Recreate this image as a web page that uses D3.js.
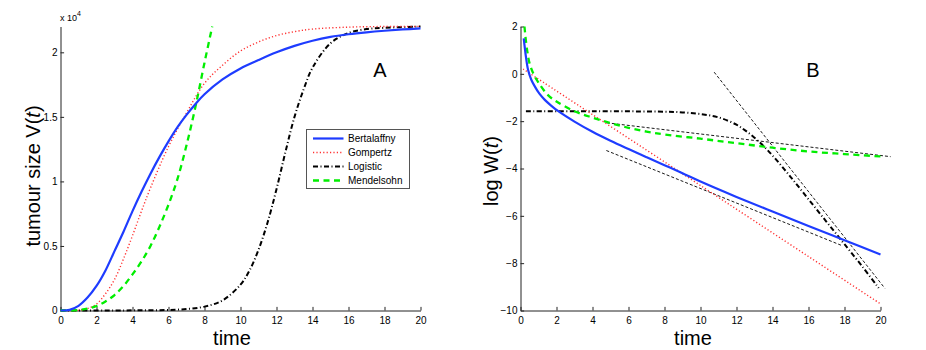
<!DOCTYPE html>
<html>
<head>
<meta charset="utf-8">
<script src="https://cdn.jsdelivr.net/npm/d3@7"></script>
<style>
  body { margin: 0; background: #fff; }
  svg text { font-family: "Liberation Sans", Arial, Helvetica, sans-serif; fill: #000; }
  .axis path, .axis line { stroke: #222; }
  .axis text { font-size: 10px; }
</style>
</head>
<body>
<div id="chart"></div>
<script>
// values in units of 10^4 for panel A, log W(t) for panel B
const seriesNames = ["Bertalaffny", "Gompertz", "Logistic", "Mendelsohn"];

const bertalanffyA = [[0,0],[0.5,0.005],[1,0.036],[1.5,0.1],[2,0.19],[2.5,0.31],[3,0.46],[3.5,0.61],[4,0.77],[4.5,0.92],[5,1.06],[5.5,1.19],[6,1.31],[6.5,1.42],[7,1.515],[7.5,1.6],[8,1.675],[9,1.79],[10,1.875],[11,1.94],[12,2.0],[13,2.05],[14,2.09],[15,2.12],[16,2.14],[17,2.155],[18,2.167],[19,2.177],[20,2.185]];
const gompertzA = [[0,0],[1,0.002],[1.5,0.015],[2,0.05],[2.5,0.13],[3,0.24],[3.5,0.4],[4,0.58],[4.5,0.77],[5,0.95],[6,1.27],[7,1.53],[8,1.76],[9,1.9],[10,2.01],[11,2.08],[12,2.13],[13,2.16],[14,2.18],[16,2.195],[18,2.2],[20,2.2]];
const logisticA = [[0,0],[4,0.001],[5,0.002],[6,0.004],[7,0.011],[8,0.03],[9,0.078],[10,0.2],[10.5,0.31],[11,0.47],[11.5,0.68],[12,0.94],[12.5,1.23],[13,1.5],[13.5,1.71],[14,1.88],[15,2.07],[16,2.15],[17,2.18],[18,2.19],[20,2.2]];
const mendelsohnA = [[0,0],[1,0.004],[1.5,0.014],[2,0.035],[2.5,0.07],[3,0.12],[3.5,0.19],[4,0.28],[4.5,0.38],[5,0.5],[5.5,0.65],[6,0.82],[6.5,1.02],[7,1.28],[7.5,1.58],[8,1.92],[8.43,2.2]];

const bertalanffyB = [[0.18,1.5],[0.3,0.73],[0.42,0.17],[0.6,-0.25],[0.8,-0.54],[1.05,-0.84],[1.35,-1.1],[1.7,-1.34],[2.1,-1.58],[3,-2.02],[4,-2.45],[5,-2.83],[6,-3.18],[7,-3.52],[8,-3.86],[9,-4.2],[10,-4.55],[12,-5.2],[14,-5.82],[16,-6.43],[18,-7.03],[20,-7.63]];
const gompertzB = [[0.15,0.2],[10,-4.72],[20,-9.72]];
const logisticB = [[0.3,-1.58],[4,-1.58],[8,-1.6],[9,-1.63],[10,-1.7],[11,-1.84],[12,-2.15],[12.5,-2.4],[13,-2.7],[13.5,-3.05],[14,-3.45],[15,-4.35],[16,-5.3],[17,-6.25],[18,-7.2],[19,-8.15],[19.9,-9.05]];
const mendelsohnB = [[0.22,2.0],[0.3,1.4],[0.4,0.85],[0.5,0.45],[0.75,-0.05],[1,-0.37],[1.5,-0.88],[2,-1.17],[3,-1.58],[4,-1.85],[5,-2.08],[6,-2.28],[7,-2.44],[8,-2.56],[10,-2.74],[12,-2.93],[14,-3.12],[16,-3.28],[18,-3.39],[20,-3.49]];

// asymptotic tangents in panel B
const tangentSteep = [[10.76,0.07],[20.24,-9.06]];
const tangentShallow = [[4.8,-2.07],[20.56,-3.5]];
const tangentLower = [[4.77,-3.24],[17.9,-7.27]];

const xTicks = [0,2,4,6,8,10,12,14,16,18,20];
const yTicksA = [0,0.5,1,1.5,2];
const yTicksB = [-10,-8,-6,-4,-2,0,2];

const styles = {
    Bertalaffny: { stroke: "#1e3cff", width: 2.2, dash: null },
    Gompertz:    { stroke: "#ff3030", width: 1.4, dash: "1.2,2.2" },
    Logistic:    { stroke: "#000", width: 2, dash: "5,2.5,1,2.5" },
    Mendelsohn:  { stroke: "#00ee00", width: 2.3, dash: "6,4.5" }
};

const svg = d3.select("#chart").append("svg")
    .attr("width", 926)
    .attr("height", 350);

const xA = d3.scaleLinear().domain([0, 20]).range([60.5, 420.5]);
const yA = d3.scaleLinear().domain([0, 2.2]).range([310.5, 26.5]);
const xB = d3.scaleLinear().domain([0, 20]).range([520.5, 880.5]);
const yB = d3.scaleLinear().domain([-10, 2]).range([310.5, 26.5]);

const drawAxes = (x, y, yTicks) => {
    svg.append("g")
        .attr("class", "axis")
        .attr("transform", `translate(0,${y.range()[0]})`)
        .call(d3.axisBottom(x).tickValues(xTicks).tickSizeInner(-3.6).tickSizeOuter(0).tickPadding(6).tickFormat(d3.format("d")));
    svg.append("g")
        .attr("class", "axis")
        .attr("transform", `translate(${x.range()[0]},0)`)
        .call(d3.axisLeft(y).tickValues(yTicks).tickSizeInner(-3.6).tickSizeOuter(0).tickPadding(3).tickFormat(d => d3.format("")(d).replace("-", "\u2212")));
};

const drawLine = (x, y, data, st) => {
    const line = d3.line().x(d => x(d[0])).y(d => y(d[1])).curve(d3.curveCatmullRom.alpha(0.5));
    svg.append("path")
        .datum(data)
        .attr("d", line)
        .attr("fill", "none")
        .attr("stroke", st.stroke)
        .attr("stroke-width", st.width)
        .attr("stroke-dasharray", st.dash);
};

drawAxes(xA, yA, yTicksA);
drawAxes(xB, yB, yTicksB);

// panel A
drawLine(xA, yA, logisticA, styles.Logistic);
drawLine(xA, yA, gompertzA, styles.Gompertz);
drawLine(xA, yA, mendelsohnA, styles.Mendelsohn);
drawLine(xA, yA, bertalanffyA, styles.Bertalaffny);

// panel B
const thinDash = { stroke: "#000", width: 0.9, dash: "3,2" };
[tangentSteep, tangentShallow, tangentLower].forEach(t => drawLine(xB, yB, t, thinDash));
drawLine(xB, yB, logisticB, styles.Logistic);
drawLine(xB, yB, gompertzB, styles.Gompertz);
drawLine(xB, yB, mendelsohnB, styles.Mendelsohn);
drawLine(xB, yB, bertalanffyB, styles.Bertalaffny);

// exponent note
const expo = svg.append("text").attr("x", 60).attr("y", 21).style("font-size", "9px");
expo.append("tspan").text("x 10");
expo.append("tspan").attr("dy", -5).style("font-size", "7px").text("4");

// axis labels
svg.append("text").attr("x", 232).attr("y", 345).attr("text-anchor", "middle").style("font-size", "20px").text("time");
svg.append("text").attr("x", 693).attr("y", 345).attr("text-anchor", "middle").style("font-size", "20px").text("time");

const yl = svg.append("text")
    .attr("transform", "translate(40,176) rotate(-90)")
    .attr("text-anchor", "middle")
    .style("font-size", "20px");
yl.append("tspan").text("tumour size V(");
yl.append("tspan").style("font-style", "italic").text("t");
yl.append("tspan").text(")");

const yr = svg.append("text")
    .attr("transform", "translate(498,171) rotate(-90)")
    .attr("text-anchor", "middle")
    .style("font-size", "20px");
yr.append("tspan").text("log W(");
yr.append("tspan").style("font-style", "italic").text("t");
yr.append("tspan").text(")");

svg.append("text").attr("x", 380).attr("y", 77).attr("text-anchor", "middle").style("font-size", "20px").text("A");
svg.append("text").attr("x", 813).attr("y", 77).attr("text-anchor", "middle").style("font-size", "20px").text("B");

// legend
const legend = svg.append("g").attr("transform", "translate(306.5,129.5)");
legend.append("rect")
    .attr("width", 103)
    .attr("height", 59)
    .attr("fill", "#fff")
    .attr("stroke", "#555")
    .attr("stroke-width", 1);
const entries = legend.selectAll(".entry")
    .data(seriesNames)
    .enter().append("g")
    .attr("class", "entry")
    .attr("transform", (d, i) => `translate(0,${9 + i * 14})`);
entries.append("line")
    .attr("x1", 6.5).attr("x2", 37)
    .attr("stroke", d => styles[d].stroke)
    .attr("stroke-width", d => styles[d].width)
    .attr("stroke-dasharray", d => styles[d].dash);
entries.append("text")
    .attr("x", 41.5)
    .attr("dy", "0.35em")
    .style("font-size", "10px")
    .text(d => d);
</script>
</body>
</html>
